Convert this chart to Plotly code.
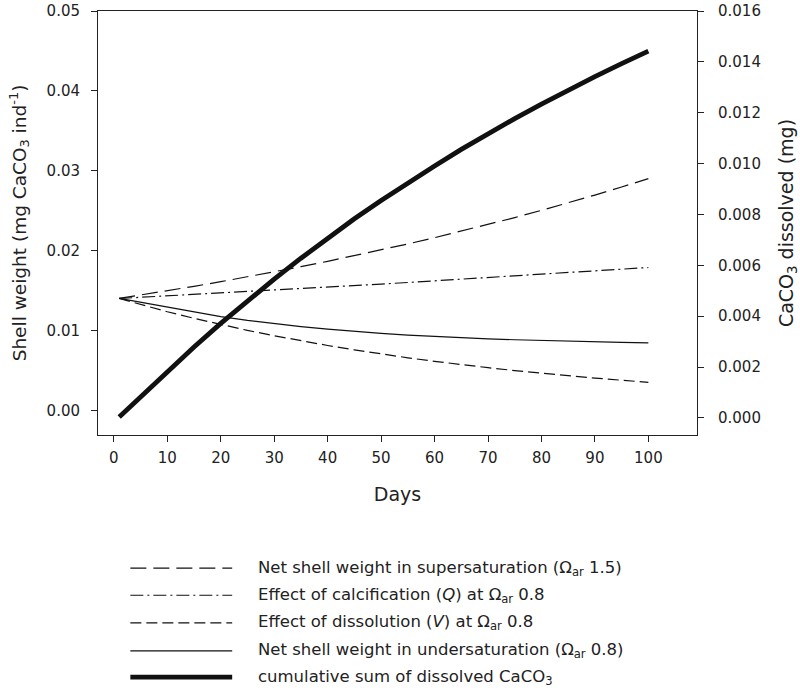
import plotly.graph_objects as go

days = [1, 5, 10, 15, 20, 25, 30, 35, 40, 45, 50, 55, 60, 65, 70, 75, 80, 85, 90, 95, 100]

net_super = [0.01400, 0.01442, 0.01496, 0.01552, 0.01610, 0.01670, 0.01733, 0.01798, 0.01865, 0.01935,
             0.02008, 0.02083, 0.02161, 0.02242, 0.02326, 0.02413, 0.02503, 0.02597, 0.02695, 0.02796, 0.02900]
calcification = [0.01400, 0.01414, 0.01431, 0.01449, 0.01467, 0.01486, 0.01504, 0.01523, 0.01542, 0.01561,
                 0.01580, 0.01600, 0.01620, 0.01640, 0.01660, 0.01681, 0.01702, 0.01723, 0.01744, 0.01766, 0.01788]
dissolution = [0.01400, 0.01324, 0.01234, 0.01151, 0.01073, 0.01000, 0.00933, 0.00870, 0.00811, 0.00756,
               0.00705, 0.00657, 0.00613, 0.00571, 0.00533, 0.00497, 0.00463, 0.00432, 0.00403, 0.00376, 0.00350]
net_under = [0.01400, 0.01352, 0.01295, 0.01235, 0.01172, 0.01125, 0.01085, 0.01048, 0.01016, 0.00988,
             0.00963, 0.00942, 0.00924, 0.00909, 0.00895, 0.00883, 0.00873, 0.00864, 0.00856, 0.00849, 0.00843]
cum_dissolved = [0.00004, 0.00083, 0.00183, 0.00279, 0.00372, 0.00461, 0.00546, 0.00628, 0.00707, 0.00783,
                 0.00855, 0.00925, 0.00991, 0.01056, 0.01118, 0.01177, 0.01234, 0.01289, 0.01342, 0.01393, 0.01442]

left_ticks = [0.00, 0.01, 0.02, 0.03, 0.04, 0.05]
left_ticklabels = ["0.00", "0.01", "0.02", "0.03", "0.04", "0.05"]
right_ticks = [0.000, 0.002, 0.004, 0.006, 0.008, 0.010, 0.012, 0.014, 0.016]
right_ticklabels = ["0.000", "0.002", "0.004", "0.006", "0.008", "0.010", "0.012", "0.014", "0.016"]
x_ticks = [0, 10, 20, 30, 40, 50, 60, 70, 80, 90, 100]

legend_labels = [
    "Net shell weight in supersaturation (Ω<sub>ar</sub> 1.5)",
    "Effect of calcification (<i>Q</i>) at Ω<sub>ar</sub> 0.8",
    "Effect of dissolution (<i>V</i>) at Ω<sub>ar</sub> 0.8",
    "Net shell weight in undersaturation (Ω<sub>ar</sub> 0.8)",
    "cumulative sum of dissolved CaCO<sub>3</sub>",
]

FONT = "DejaVu Sans, Liberation Sans, Arial, sans-serif"
INK = "#111111"
AX = "#222222"

styles = [
    dict(color=INK, width=1.2, dash="16px,7px"),
    dict(color=INK, width=1.2, dash="13px,4px,2px,4px"),
    dict(color=INK, width=1.2, dash="11px,5px"),
    dict(color=INK, width=1.2, dash="solid"),
    dict(color=INK, width=4.8, dash="solid"),
]

fig = go.Figure()
series = [net_super, calcification, dissolution, net_under]
for vals, st, lab in zip(series, styles[:4], legend_labels[:4]):
    fig.add_trace(go.Scatter(x=days, y=vals, mode="lines", line=st, name=lab,
                             showlegend=False, yaxis="y"))
fig.add_trace(go.Scatter(x=days, y=cum_dissolved, mode="lines", line=styles[4],
                         name=legend_labels[4], showlegend=False, yaxis="y2"))

# Manual legend (long line samples like the original)
row_y = [-0.314, -0.378, -0.443, -0.509, -0.571]
shapes = []
annotations = []
for yy, st, lab in zip(row_y, styles, legend_labels):
    shapes.append(dict(type="line", xref="paper", yref="paper", x0=0.054, x1=0.224,
                       y0=yy, y1=yy, line=st))
    annotations.append(dict(xref="paper", yref="paper", x=0.263, y=yy, text=lab,
                            showarrow=False, xanchor="left", yanchor="middle",
                            font=dict(family=FONT, size=16.5, color="#222")))

axis_common = dict(showline=True, linecolor=AX, linewidth=1, ticks="outside",
                   ticklen=6, tickcolor=AX, showgrid=False, zeroline=False,
                   automargin=False, ticklabeloverflow="allow",
                   tickfont=dict(family=FONT, size=15, color="#222"))

fig.update_layout(
    width=800, height=691,
    margin=dict(l=98, r=103, t=11, b=256),
    paper_bgcolor="white", plot_bgcolor="white",
    font=dict(family=FONT, color="#222"),
    hovermode=False,
    xaxis=dict(range=[-2.97, 109.1], tickvals=x_ticks, mirror=True,
               ticklabelstandoff=3,
               title=dict(text="Days", font=dict(family=FONT, size=19), standoff=21),
               **axis_common),
    yaxis=dict(range=[-0.0031, 0.0500], tickvals=left_ticks, ticktext=left_ticklabels,
               ticklabelstandoff=8,
               title=dict(text="Shell weight (mg CaCO<sub>3</sub> ind<sup>-1</sup>)",
                          font=dict(family=FONT, size=18.5), standoff=15),
               **axis_common),
    yaxis2=dict(range=[-0.00067, 0.0160], tickvals=right_ticks, ticktext=right_ticklabels,
                overlaying="y", side="right", ticklabelstandoff=11,
                title=dict(text="CaCO<sub>3</sub> dissolved (mg)",
                           font=dict(family=FONT, size=19), standoff=23),
                **axis_common),
    shapes=shapes,
    annotations=annotations,
)

# remove the default page margin so the figure fills the window exactly
fig.write_html("out.html", config={"displayModeBar": False, "staticPlot": False},
               post_script="document.body.style.margin='0px';document.body.style.overflow='hidden';")
